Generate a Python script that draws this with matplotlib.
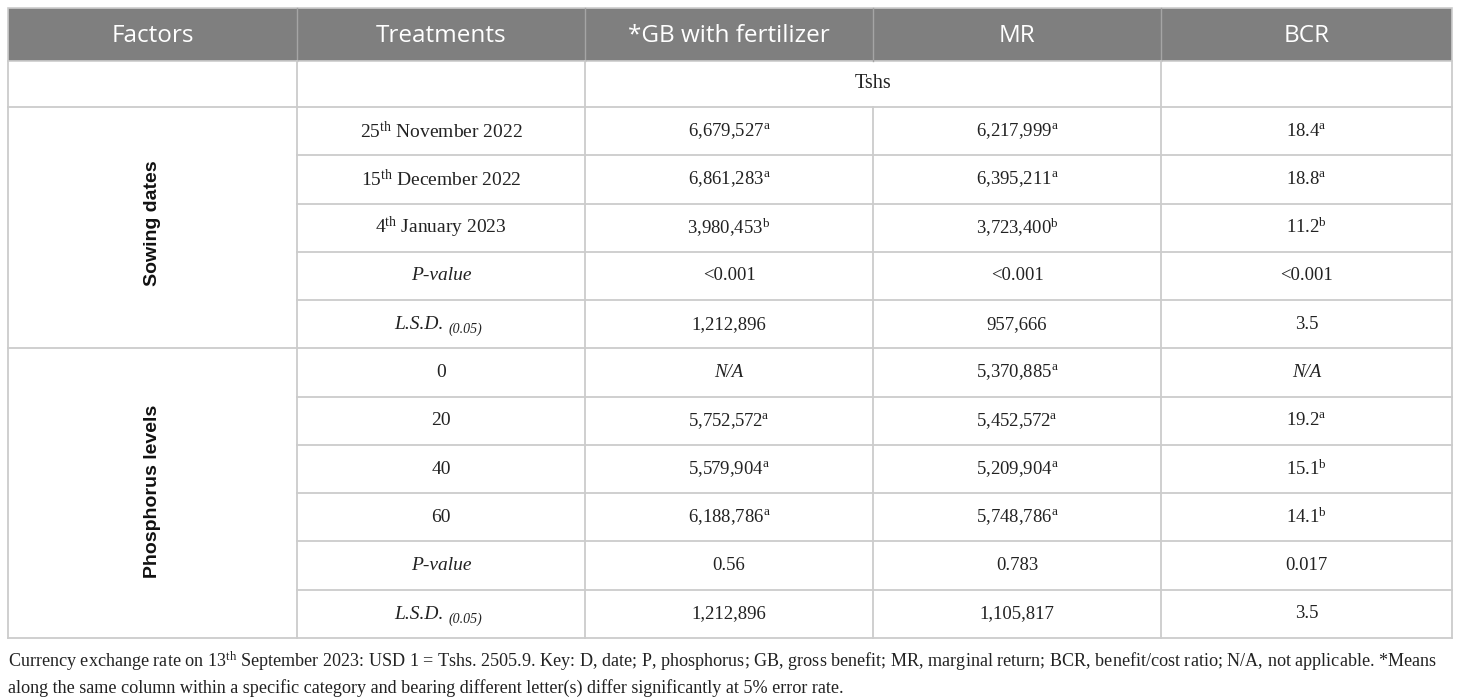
import matplotlib.pyplot as plt

plt.rcParams['mathtext.fontset'] = 'custom'
plt.rcParams['mathtext.rm'] = 'Liberation Serif'
plt.rcParams['mathtext.it'] = 'Liberation Serif:italic'

# table content
headers = ['Factors', 'Treatments', '*GB with fertilizer', 'MR', 'BCR']
unit_label = 'Tshs'
factor_groups = ['Sowing dates', 'Phosphorus levels']
treatments = [
    r'25$^{\mathrm{th}}$ November 2022',
    r'15$^{\mathrm{th}}$ December 2022',
    r'4$^{\mathrm{th}}$ January 2023',
    'P-value', 'LSD',
    '0', '20', '40', '60',
    'P-value', 'LSD',
]
gb = ['6,679,527', '6,861,283', '3,980,453', '<0.001', '1,212,896',
      'N/A', '5,752,572', '5,579,904', '6,188,786', '0.56', '1,212,896']
gb_sup = ['a', 'a', 'b', '', '', '', 'a', 'a', 'a', '', '']
mr = ['6,217,999', '6,395,211', '3,723,400', '<0.001', '957,666',
      '5,370,885', '5,452,572', '5,209,904', '5,748,786', '0.783', '1,105,817']
mr_sup = ['a', 'a', 'b', '', '', 'a', 'a', 'a', 'a', '', '']
bcr = ['18.4', '18.8', '11.2', '<0.001', '3.5',
       'N/A', '19.2', '15.1', '14.1', '0.017', '3.5']
bcr_sup = ['a', 'a', 'b', '', '', '', 'a', 'b', 'b', '', '']

footnote = [
    r'Currency exchange rate on 13$^{\mathrm{th}}$ September 2023: USD 1 = Tshs. 2505.9. Key: D, date; P, phosphorus; GB, gross benefit; MR, marginal return; BCR, benefit/cost ratio; N/A, not applicable. *Means',
    'along the same column within a specific category and bearing different letter(s) differ significantly at 5% error rate.',
]

# geometry in pixels
col_x = [8, 297, 585, 873, 1161, 1452]
head_top, head_bot = 8, 61
unit_bot = 107
row_h = (638 - unit_bot) / 11
row_y = [unit_bot + i * row_h for i in range(12)]
line_c = '#cccccc'
serif = 'Liberation Serif'
txt_c = '#222222'

fig = plt.figure(figsize=(14.6, 7), dpi=100)
ax = fig.add_axes([0, 0, 1, 1])
ax.set_xlim(0, 1460)
ax.set_ylim(700, 0)
ax.axis('off')

# header band
ax.add_patch(plt.Rectangle((col_x[0], head_top), col_x[-1] - col_x[0], head_bot - head_top,
                           facecolor='#7f7f7f', edgecolor='#cccccc', lw=1.2))
for x in col_x[1:-1]:
    ax.plot([x, x], [head_top, head_bot], color='#a5a5a5', lw=1)
for i, h in enumerate(headers):
    ax.text((col_x[i] + col_x[i + 1]) / 2, (head_top + head_bot) / 2 + 1, h,
            ha='center', va='center', color='white', fontsize=17.5, family='Open Sans')

lw = 1.3
# outer border of body
ax.plot([col_x[0], col_x[0]], [head_bot, row_y[-1]], color=line_c, lw=lw)
ax.plot([col_x[-1], col_x[-1]], [head_bot, row_y[-1]], color=line_c, lw=lw)
# unit row
for x in [col_x[1], col_x[2], col_x[4]]:
    ax.plot([x, x], [head_bot, unit_bot], color=line_c, lw=lw)
ax.plot([col_x[0], col_x[-1]], [unit_bot, unit_bot], color=line_c, lw=lw)
ax.text((col_x[2] + col_x[4]) / 2, (head_bot + unit_bot) / 2, unit_label,
        ha='center', va='center', fontsize=14.5, family=serif, color=txt_c)

# body verticals
for x in col_x[1:-1]:
    ax.plot([x, x], [unit_bot, row_y[-1]], color=line_c, lw=lw)
# horizontal lines
for i in range(1, 12):
    x0 = col_x[0] if i in (5, 11) else col_x[1]
    ax.plot([x0, col_x[-1]], [row_y[i], row_y[i]], color=line_c, lw=lw)

# factor labels
ax.text((col_x[0] + col_x[1]) / 2, (row_y[0] + row_y[5]) / 2 - 4, factor_groups[0],
        rotation=90, ha='center', va='center', fontsize=14, fontweight='bold',
        family='Liberation Sans', color='#111111')
ax.text((col_x[0] + col_x[1]) / 2, (row_y[5] + row_y[11]) / 2 - 2, factor_groups[1],
        rotation=90, ha='center', va='center', fontsize=14, fontweight='bold',
        family='Liberation Sans', color='#111111')


def cell(col, row, txt, sup='', size=13.5):
    xc = (col_x[col] + col_x[col + 1]) / 2
    yc = (row_y[row] + row_y[row + 1]) / 2
    if txt == 'LSD':
        ax.text(xc + 3, yc + 5, 'L.S.D.', ha='right', va='baseline', fontsize=14,
                family=serif, style='italic', color=txt_c)
        ax.text(xc + 8, yc + 9, '(0.05)', ha='left', va='baseline', fontsize=10,
                family=serif, style='italic', color=txt_c)
        return
    italic = txt in ('P-value', 'N/A')
    s = txt + (r'$^{\mathrm{%s}}$' % sup if sup else '')
    ax.text(xc, yc, s, ha='center', va='center', fontsize=size, family=serif,
            style='italic' if italic else 'normal', color=txt_c)


for r in range(11):
    cell(1, r, treatments[r], size=14)
    cell(2, r, gb[r], gb_sup[r])
    cell(3, r, mr[r], mr_sup[r])
    cell(4, r, bcr[r], bcr_sup[r])

# footnote
ax.text(8, 661, footnote[0], ha='left', va='center', fontsize=13.1, family=serif, color=txt_c)
ax.text(8, 688, footnote[1], ha='left', va='center', fontsize=13.1, family=serif, color=txt_c)

fig.savefig('out.png', dpi=100)
